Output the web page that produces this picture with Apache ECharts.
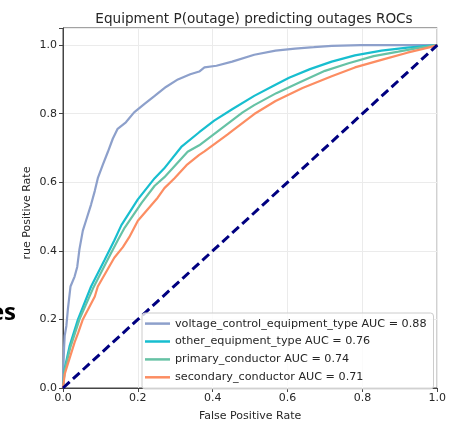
<!DOCTYPE html>
<html>
<head>
<meta charset="utf-8">
<script src="https://cdn.jsdelivr.net/npm/echarts@6/dist/echarts.min.js"></script>
<style>
html,body{margin:0;padding:0;background:#fff;}
#main{width:449px;height:427px;}
</style>
</head>
<body>
<div id="main"></div>
<script>
// ---- data ----
var titleText = 'Equipment P(outage) predicting outages ROCs';
var xAxisLabel = 'False Positive Rate';
var yAxisLabel = 'rue Positive Rate';
var seriesNames = [
  'voltage_control_equipment_type AUC = 0.88',
  'other_equipment_type AUC = 0.76',
  'primary_conductor AUC = 0.74',
  'secondary_conductor AUC = 0.71'
];
var tickValues = [0, 0.2, 0.4, 0.6, 0.8, 1.0];

var voltageFpr = [0,0.001,0.003,0.0045,0.009,0.013,0.02,0.031,0.038,0.044,0.053,0.062,0.075,0.085,0.093,0.106,0.12,0.133,0.146,0.168,0.19,0.217,0.245,0.275,0.307,0.34,0.364,0.378,0.41,0.452,0.511,0.568,0.62,0.67,0.718,0.795,1];
var voltageTpr = [0,0.06,0.12,0.152,0.181,0.229,0.296,0.325,0.353,0.405,0.459,0.49,0.535,0.575,0.612,0.65,0.689,0.727,0.756,0.775,0.804,0.828,0.852,0.878,0.9,0.915,0.923,0.935,0.94,0.952,0.972,0.984,0.99,0.994,0.998,1.0,1.0];

var otherFpr = [0,0.0045,0.018,0.04,0.075,0.111,0.137,0.156,0.2,0.245,0.27,0.316,0.364,0.404,0.452,0.511,0.56,0.604,0.66,0.718,0.78,0.851,0.92,1];
var otherTpr = [0,0.057,0.124,0.2,0.296,0.373,0.43,0.475,0.55,0.612,0.64,0.703,0.746,0.78,0.813,0.852,0.88,0.905,0.93,0.952,0.97,0.984,0.993,1];

var primaryFpr = [0,0.0045,0.02,0.044,0.08,0.115,0.146,0.165,0.21,0.245,0.271,0.333,0.364,0.422,0.48,0.511,0.57,0.63,0.7,0.763,0.83,0.896,0.95,1];
var primaryTpr = [0,0.05,0.12,0.2,0.29,0.365,0.43,0.468,0.54,0.59,0.615,0.689,0.708,0.756,0.804,0.825,0.86,0.89,0.925,0.947,0.968,0.981,0.992,1];

var secondaryFpr = [0,0.0045,0.01,0.031,0.041,0.053,0.085,0.093,0.137,0.16,0.177,0.2,0.253,0.271,0.298,0.33,0.364,0.378,0.44,0.452,0.511,0.568,0.64,0.718,0.78,0.851,0.92,0.984,1];
var secondaryTpr = [0,0.04,0.06,0.133,0.162,0.2,0.267,0.296,0.38,0.411,0.44,0.488,0.555,0.583,0.612,0.65,0.68,0.69,0.74,0.75,0.799,0.837,0.875,0.909,0.935,0.957,0.978,0.995,1];

var chanceFpr = [0, 1];
var chanceTpr = [0, 1];

// ---- build ----
function pairs(xs, ys) { return xs.map(function (x, i) { return [x, ys[i]]; }); }
var colors = ['#8da0cb', '#17becf', '#66c2a5', '#fc8d62'];
var curves = [[voltageFpr, voltageTpr], [otherFpr, otherTpr], [primaryFpr, primaryTpr], [secondaryFpr, secondaryTpr]];
var FONT = 'DejaVu Sans';

var series = curves.map(function (c, i) {
  return {
    name: seriesNames[i], type: 'line', data: pairs(c[0], c[1]),
    symbol: 'none', smooth: false,
    lineStyle: { color: colors[i], width: 2.2 },
    itemStyle: { color: colors[i] },
    z: 2
  };
});
series.push({
  name: 'chance', type: 'line', data: pairs(chanceFpr, chanceTpr),
  symbol: 'none',
  lineStyle: { color: '#000080', width: 3, type: [9, 4.5] },
  z: 3
});

var chart = echarts.init(document.getElementById('main'), null, { renderer: 'canvas' });
chart.setOption({
  animation: false,
  backgroundColor: '#fff',
  title: {
    text: titleText, left: 249, top: 7, textAlign: 'center',
    textStyle: { fontFamily: FONT, fontSize: 13.6, fontWeight: 'normal', color: '#262626' }
  },
  grid: { left: 63, right: 10, top: 28, bottom: 34, show: true, borderColor: '#444', borderWidth: 1, backgroundColor: 'transparent' },
  xAxis: {
    type: 'value', min: 0, max: 1, interval: 0.2,
    name: xAxisLabel, nameLocation: 'middle', nameGap: 23,
    nameTextStyle: { fontFamily: FONT, fontSize: 11, color: '#262626' },
    axisLine: { show: true, lineStyle: { color: '#444' } },
    axisTick: { show: true, length: 4, lineStyle: { color: '#444' } },
    axisLabel: { fontFamily: FONT, fontSize: 11, color: '#262626', margin: 5,
      formatter: function (v) { return v.toFixed(1); } },
    splitLine: { show: true, lineStyle: { color: '#ebebeb', width: 1 } }
  },
  yAxis: {
    type: 'value', min: 0, max: 1.05, interval: 0.2,
    axisLine: { show: true, lineStyle: { color: '#444' } },
    axisTick: { show: true, length: 4, lineStyle: { color: '#444' } },
    axisLabel: { fontFamily: FONT, fontSize: 11, color: '#262626', margin: 6,
      formatter: function (v) { return tickValues.some(function (t) { return Math.abs(t - v) < 1e-6; }) ? v.toFixed(1) : ''; } },
    splitLine: { show: true, lineStyle: { color: '#ebebeb', width: 1 } }
  },
  legend: {
    data: seriesNames, orient: 'vertical', left: 142, top: 313,
    icon: 'rect', itemWidth: 25, itemHeight: 2.5, itemGap: 4.7,
    padding: [4, 7, 5, 3],
    backgroundColor: 'rgba(255,255,255,0.8)', borderColor: '#cccccc', borderWidth: 1, borderRadius: 3,
    textStyle: { fontFamily: FONT, fontSize: 11.2, color: '#262626', lineHeight: 13.2 }
  },
  graphic: [
    { type: 'text', x: 27, y: 213, rotation: Math.PI / 2,
      style: { text: yAxisLabel, fontFamily: FONT, fontSize: 11, fill: '#262626', align: 'center', verticalAlign: 'middle' } },
    { type: 'text', x: 16, y: 313,
      style: { text: 'es', fontFamily: 'Open Sans', fontWeight: 'bold', fontSize: 24, fill: '#000', align: 'right', verticalAlign: 'middle' } }
  ],
  series: series
});
</script>
</body>
</html>
